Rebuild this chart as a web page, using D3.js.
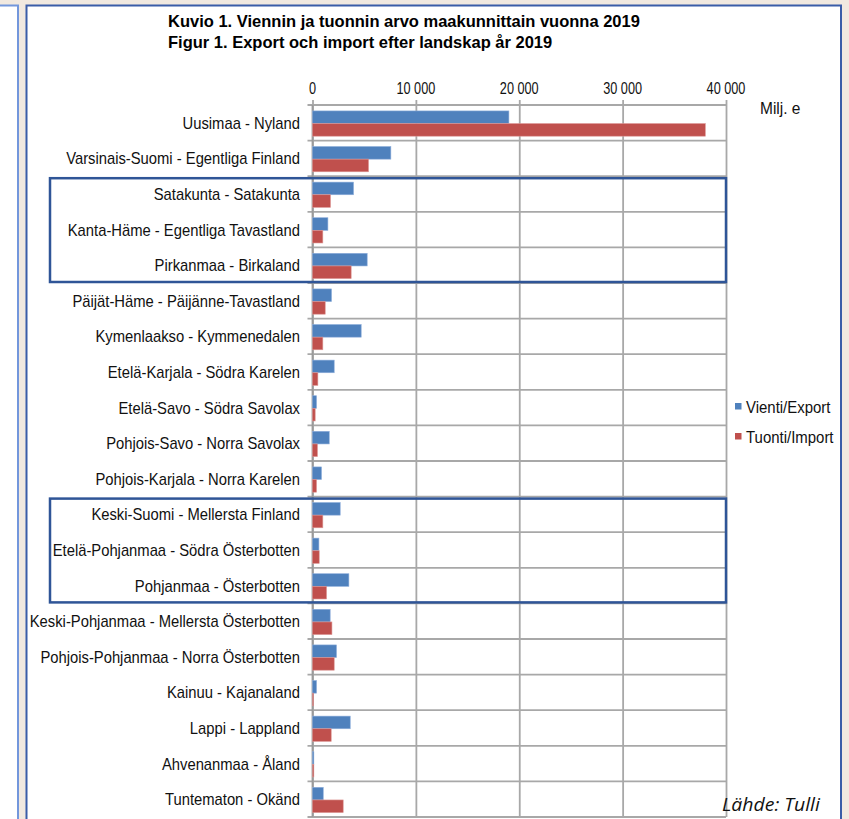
<!DOCTYPE html>
<html>
<head>
<meta charset="utf-8">
<script src="https://cdn.jsdelivr.net/npm/d3@7"></script>
<style>
    body { margin: 0; background: #f1e9e0; }
    svg { display: block; font-family: 'Liberation Sans', Arial, sans-serif; }
</style>
</head>
<body>
<svg id="chart" width="849" height="819"></svg>
<script>

// Chart data (milj. e)
var categories = [
    'Uusimaa - Nyland',
    'Varsinais-Suomi - Egentliga Finland',
    'Satakunta - Satakunta',
    'Kanta-Häme - Egentliga Tavastland',
    'Pirkanmaa - Birkaland',
    'Päijät-Häme - Päijänne-Tavastland',
    'Kymenlaakso - Kymmenedalen',
    'Etelä-Karjala - Södra Karelen',
    'Etelä-Savo - Södra Savolax',
    'Pohjois-Savo - Norra Savolax',
    'Pohjois-Karjala - Norra Karelen',
    'Keski-Suomi - Mellersta Finland',
    'Etelä-Pohjanmaa - Södra Österbotten',
    'Pohjanmaa - Österbotten',
    'Keski-Pohjanmaa - Mellersta Österbotten',
    'Pohjois-Pohjanmaa - Norra Österbotten',
    'Kainuu - Kajanaland',
    'Lappi - Lappland',
    'Ahvenanmaa - Åland',
    'Tuntematon - Okänd'
];
var exportValues = [19000, 7580, 3970, 1490, 5290, 1840, 4710, 2100, 390, 1620, 870, 2680, 620, 3520, 1710, 2320, 390, 3650, 130, 1040];
var importValues = [38000, 5420, 1740, 1000, 3740, 1230, 1000, 520, 260, 480, 390, 1000, 650, 1360, 1880, 2100, 100, 1810, 130, 2970];
var seriesNames = ['Vienti/Export', 'Tuonti/Import'];
var seriesColors = ['#4f81bd', '#c0504d'];
var xTicks = [0, 10000, 20000, 30000, 40000];
var xTickLabels = ['0', '10 000', '20 000', '30 000', '40 000'];
var highlightGroups = [
    ['Satakunta - Satakunta', 'Pirkanmaa - Birkaland'],
    ['Keski-Suomi - Mellersta Finland', 'Pohjanmaa - Österbotten']
];
var titleLines = [
    'Kuvio 1. Viennin ja tuonnin arvo maakunnittain vuonna 2019',
    'Figur 1. Export och import efter landskap år 2019'
];

var svg = d3.select('#chart');

// Page background and the two framed panels
svg.append('rect')
    .attr('width', 849).attr('height', 819)
    .attr('fill', '#f1e9e0');
svg.append('rect')
    .attr('x', -3).attr('y', 5.5)
    .attr('width', 21).attr('height', 830)
    .attr('fill', '#ffffff')
    .attr('stroke', '#7397dc')
    .attr('stroke-width', 2);
svg.append('rect')
    .attr('x', 26.5).attr('y', 5.5)
    .attr('width', 814.5).attr('height', 830)
    .attr('fill', '#ffffff')
    .attr('stroke', '#3a5da8')
    .attr('stroke-width', 2);

// Scales
var x = d3.scaleLinear().domain([0, 40000]).range([312.5, 726]);
var y = d3.scaleBand().domain(categories).range([105, 817]);
var ySub = d3.scaleBand().domain(seriesNames)
    .range([1.5, y.bandwidth()]).paddingOuter(0.35);

var g = svg.append('g');

// Vertical grid lines
g.append('g')
    .attr('class', 'grid')
    .attr('transform', 'translate(0,105)')
    .call(d3.axisBottom(x).tickValues(xTicks)
        .tickSize(817 - 105)
        .tickFormat('')
    )
    .call(function(s){ s.select('.domain').remove(); });

// Horizontal grid lines on category boundaries (with small ticks left of the axis)
var edges = categories.map(function(c){ return y(c) + y.bandwidth(); });
edges.unshift(y(categories[0]));
g.append('g')
    .selectAll('line')
    .data(edges)
    .enter().append('line')
    .attr('x1', x(0) - 5)
    .attr('x2', x(40000))
    .attr('y1', function(d){ return d; })
    .attr('y2', function(d){ return d; });

// Top axis ticks
g.append('g')
    .attr('transform', 'translate(0,105)')
    .call(d3.axisTop(x).tickValues(xTicks).tickSize(5).tickSizeOuter(0).tickFormat(''))
    .call(function(s){ s.select('.domain').remove(); });

g.selectAll('line')
    .attr('stroke', '#a8a8a8')
    .attr('stroke-width', 1.8);

// Left axis line
g.append('line')
    .attr('x1', x(0)).attr('x2', x(0))
    .attr('y1', 105).attr('y2', 817)
    .attr('stroke', '#9a9a9a')
    .attr('stroke-width', 1.8);

// Tick labels on top
svg.append('g')
    .selectAll('text')
    .data(xTicks)
    .enter().append('text')
    .attr('transform', function(d){ return 'translate(' + x(d) + ',94) scale(0.77,1)'; })
    .attr('text-anchor', 'middle')
    .attr('font-size', '16.5px')
    .attr('fill', '#111')
    .text(function(d, i){ return xTickLabels[i]; });

// Bars
var rows = svg.append('g')
    .selectAll('g')
    .data(categories)
    .enter().append('g')
    .attr('transform', function(d){ return 'translate(0,' + y(d) + ')'; });

rows.selectAll('rect')
    .data(function(d, i){ return [exportValues[i], importValues[i]]; })
    .enter().append('rect')
    .attr('x', x(0))
    .attr('y', function(d, j){ return ySub(seriesNames[j]); })
    .attr('width', function(d){ return x(d) - x(0); })
    .attr('height', ySub.bandwidth())
    .attr('fill', function(d, j){ return seriesColors[j]; })
    .attr('stroke', function(d, j){ return j == 0 ? '#8eaedb' : '#dc9795'; })
    .attr('stroke-width', 0.6);

// Category labels
svg.append('g')
    .selectAll('text')
    .data(categories)
    .enter().append('text')
    .attr('transform', function(d){ return 'translate(300,' + (y(d) + y.bandwidth() / 2 + 6) + ') scale(0.87,1)'; })
    .attr('text-anchor', 'end')
    .attr('font-size', '17px')
    .attr('fill', '#111')
    .text(function(d){ return d; });

// Highlight boxes around region groups
svg.append('g')
    .selectAll('rect')
    .data(highlightGroups)
    .enter().append('rect')
    .attr('x', 50)
    .attr('y', function(d){ return y(d[0]) + 2; })
    .attr('width', x(40000) - 50)
    .attr('height', function(d){ return y(d[1]) + y.bandwidth() - y(d[0]) - 3; })
    .attr('fill', 'none')
    .attr('stroke', '#2f5597')
    .attr('stroke-width', 2.5);

// Title
svg.append('g')
    .selectAll('text')
    .data(titleLines)
    .enter().append('text')
    .attr('transform', function(d, i){ return 'translate(168,' + (27 + i * 21) + ')'; })
    .attr('font-size', '16.5px')
    .attr('font-weight', 'bold')
    .attr('fill', '#000')
    .text(function(d){ return d; });

// Unit label
svg.append('text')
    .attr('transform', 'translate(760,114) scale(0.97,1)')
    .attr('font-size', '16px')
    .attr('fill', '#111')
    .text('Milj. e');

// Legend
var legend = svg.append('g')
    .selectAll('g')
    .data(seriesNames)
    .enter().append('g')
    .attr('transform', function(d, i){ return 'translate(735,' + (413 + i * 30) + ')'; });
legend.append('rect')
    .attr('x', 0).attr('y', -10)
    .attr('width', 6.5).attr('height', 6.5)
    .attr('fill', function(d, i){ return seriesColors[i]; });
legend.append('text')
    .attr('transform', 'translate(11,0) scale(0.88,1)')
    .attr('font-size', '17px')
    .attr('fill', '#111')
    .text(function(d){ return d; });

// Source note
svg.append('text')
    .attr('transform', 'translate(722,811) scale(1.08,1)')
    .attr('font-family', "'Open Sans', sans-serif")
    .attr('font-style', 'italic')
    .attr('font-size', '18px')
    .attr('fill', '#111')
    .text('Lähde: Tulli');

</script>
</body>
</html>
